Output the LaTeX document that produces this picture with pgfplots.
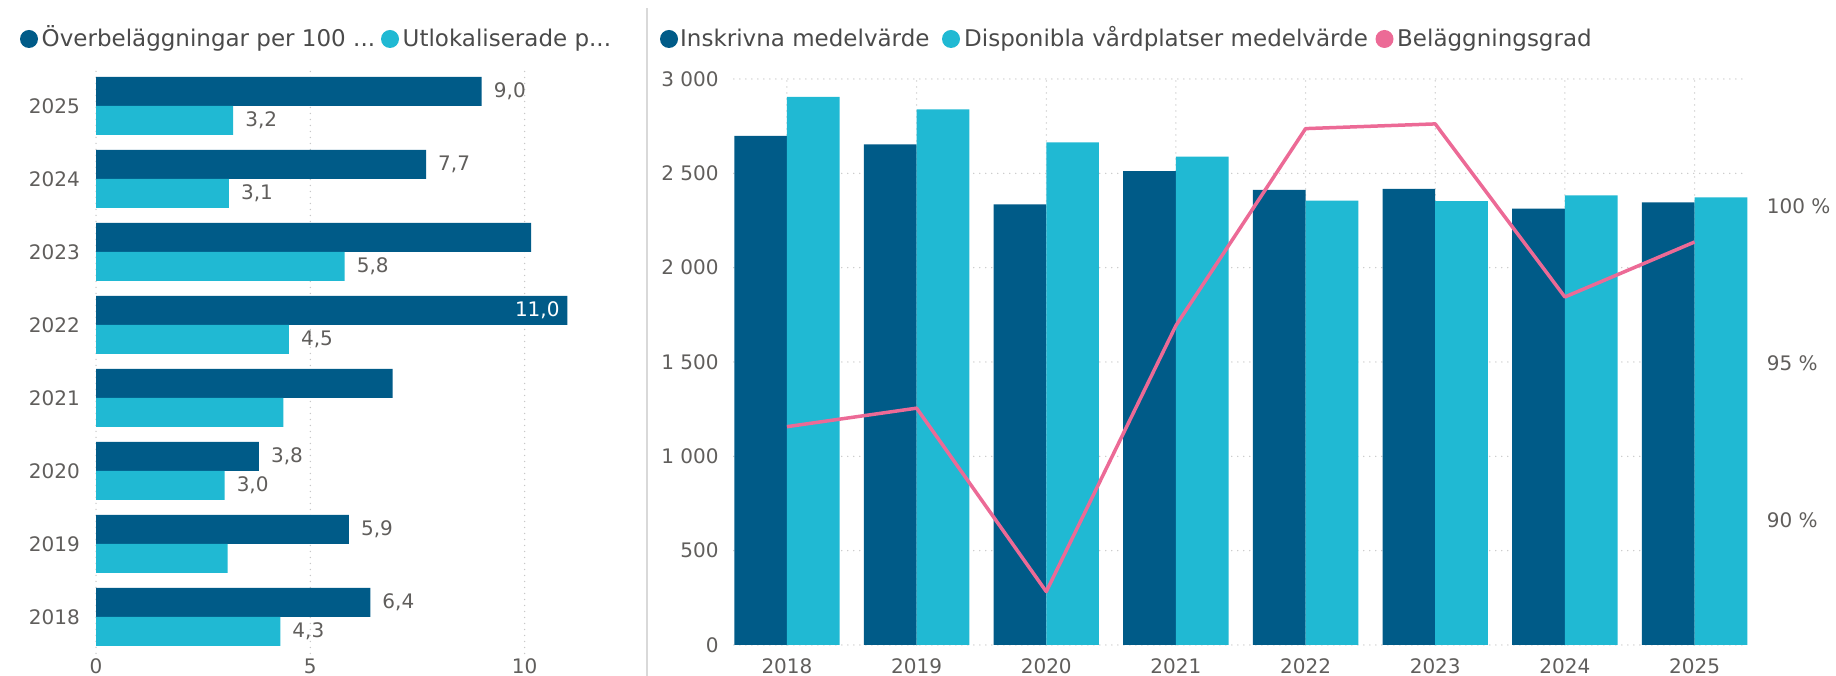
\documentclass[border=0pt]{standalone}
\usepackage{pgfplots}
\pgfplotsset{compat=1.18}
\usepackage{fontspec}
\setmainfont{DejaVu Sans}
\definecolor{dkblue}{HTML}{005B88}
\definecolor{ltblue}{HTML}{20B9D3}
\definecolor{pinkc}{HTML}{EC6A96}
\definecolor{txt}{HTML}{605E5C}
\definecolor{legtxt}{HTML}{4A4A4A}
\definecolor{gridc}{HTML}{C8C8C8}
\newcommand{\tickfont}{\fontsize{20}{24}\selectfont}
\newcommand{\legfont}{\fontsize{23}{27}\selectfont}
\begin{document}
\begin{tikzpicture}[x=1pt,y=1pt]
\useasboundingbox (0pt,0pt) rectangle (1836pt,676pt);
\pgfplotsset{/pgf/number format/assume math mode=true}
% separator
\draw[color=black!15, line width=2pt] (647pt,0pt) -- (647pt,668pt);
% left legend
\fill[dkblue] (29pt,637pt) circle (9pt);
\node[anchor=base west, inner sep=0pt, text=legtxt, font=\legfont] at (41.5pt,629.5pt) {Överbeläggningar per 100 ...};
\fill[ltblue] (390pt,637pt) circle (9pt);
\node[anchor=base west, inner sep=0pt, text=legtxt, font=\legfont] at (402.5pt,629.5pt) {Utlokaliserade p...};
% right legend
\fill[dkblue] (669pt,637pt) circle (9pt);
\node[anchor=base west, inner sep=0pt, text=legtxt, font=\legfont] at (680pt,629.5pt) {Inskrivna medelvärde};
\fill[ltblue] (951pt,637pt) circle (9pt);
\node[anchor=base west, inner sep=0pt, text=legtxt, font=\legfont] at (964pt,629.5pt) {Disponibla vårdplatser medelvärde};
\fill[pinkc] (1384.5pt,637pt) circle (9pt);
\node[anchor=base west, inner sep=0pt, text=legtxt, font=\legfont] at (1397pt,629.5pt) {Beläggningsgrad};

\pgfplotsset{
  noaxisline/.style={
    axis line style={draw=none},
    every outer x axis line/.append style={draw=none},
    every outer y axis line/.append style={draw=none},
    every inner x axis line/.append style={draw=none},
    every inner y axis line/.append style={draw=none},
  },
  dotgrid/.style={grid style={gridc, line width=1.5pt, line cap=round, dash pattern=on 0pt off 6pt}},
}

% ---------- left chart ----------
\begin{axis}[
  at={(96pt,22.5pt)}, anchor=south west, scale only axis,
  width=514.3pt, height=584pt,
  xmin=0, xmax=12, ymin=-0.5, ymax=7.5,
  xbar, bar width=29pt,
  noaxisline,
  major tick length=0pt,
  ytick={0,...,7}, yticklabels={2018,2019,2020,2021,2022,2023,2024,2025},
  xtick={0,5,10},
  xmajorgrids, dotgrid,
  tick label style={font=\tickfont, text=txt},
  xticklabel style={anchor=north, inner sep=0pt, yshift=-5pt},
  yticklabel style={anchor=east, inner sep=0pt, xshift=-16pt},
  nodes near coords, point meta=explicit symbolic,
  every node near coord/.append style={font=\tickfont, text=txt, anchor=west, inner sep=0pt, xshift=12pt},
]
\addplot[fill=dkblue, draw=none, bar shift=14.5pt] table[x=v, y=c, meta=lab] {
c v lab
0 6.4 6,4
1 5.9 5,9
2 3.8 3,8
3 6.92 {}
4 11.0 {}
5 10.15 {}
6 7.7 7,7
7 9.0 9,0
};
\addplot[fill=ltblue, draw=none, bar shift=-14.5pt] table[x=v, y=c, meta=lab] {
c v lab
0 4.3 4,3
1 3.07 {}
2 3.0 3,0
3 4.37 {}
4 4.5 4,5
5 5.8 5,8
6 3.1 3,1
7 3.2 3,2
};
\node[anchor=east, inner sep=0pt, text=white, font=\tickfont, yshift=14.5pt] at (axis cs:10.82,4) {11,0};
\end{axis}

% ---------- right chart: bars ----------
\begin{axis}[
  at={(733.8pt,31pt)}, anchor=south west, scale only axis,
  width=1013.9pt, height=566pt,
  xmin=-0.41, xmax=7.41, ymin=0, ymax=3000,
  ybar, bar width=52.7pt,
  noaxisline,
  major tick length=0pt,
  xtick={0,...,7}, xticklabels={2018,2019,2020,2021,2022,2023,2024,2025},
  ytick={0,500,1000,1500,2000,2500,3000},
  yticklabels={0,500,1~000,1~500,2~000,2~500,3~000},
  xmajorgrids, ymajorgrids, dotgrid,
  tick label style={font=\tickfont, text=txt},
  xticklabel style={anchor=north, inner sep=0pt, yshift=-13pt},
  yticklabel style={anchor=east, inner sep=0pt, xshift=-15pt},
]
\addplot[fill=dkblue, draw=none, bar shift=-26.35pt] coordinates {
(0,2698) (1,2654) (2,2336) (3,2512) (4,2412) (5,2417) (6,2313) (7,2346)};
\addplot[fill=ltblue, draw=none, bar shift=26.35pt] coordinates {
(0,2905) (1,2839) (2,2664) (3,2588) (4,2355) (5,2353) (6,2383) (7,2373)};
\end{axis}

% ---------- right chart: line ----------
\begin{axis}[
  at={(733.8pt,31pt)}, anchor=south west, scale only axis,
  width=1013.9pt, height=566pt,
  xmin=-0.41, xmax=7.41, ymin=86.02, ymax=104.04,
  hide x axis, yticklabel pos=right,
  noaxisline,
  major tick length=0pt,
  ytick={90,95,100}, yticklabels={90~\%,95~\%,100~\%},
  tick label style={font=\tickfont, text=txt},
  yticklabel style={anchor=west, inner sep=0pt, xshift=19pt},
]
\addplot[pinkc, line width=3.5pt, line join=round, no markers] coordinates {
(0,92.97) (1,93.56) (2,87.72) (3,96.19) (4,102.46) (5,102.61) (6,97.10) (7,98.85)};
\end{axis}
\end{tikzpicture}
\end{document}
